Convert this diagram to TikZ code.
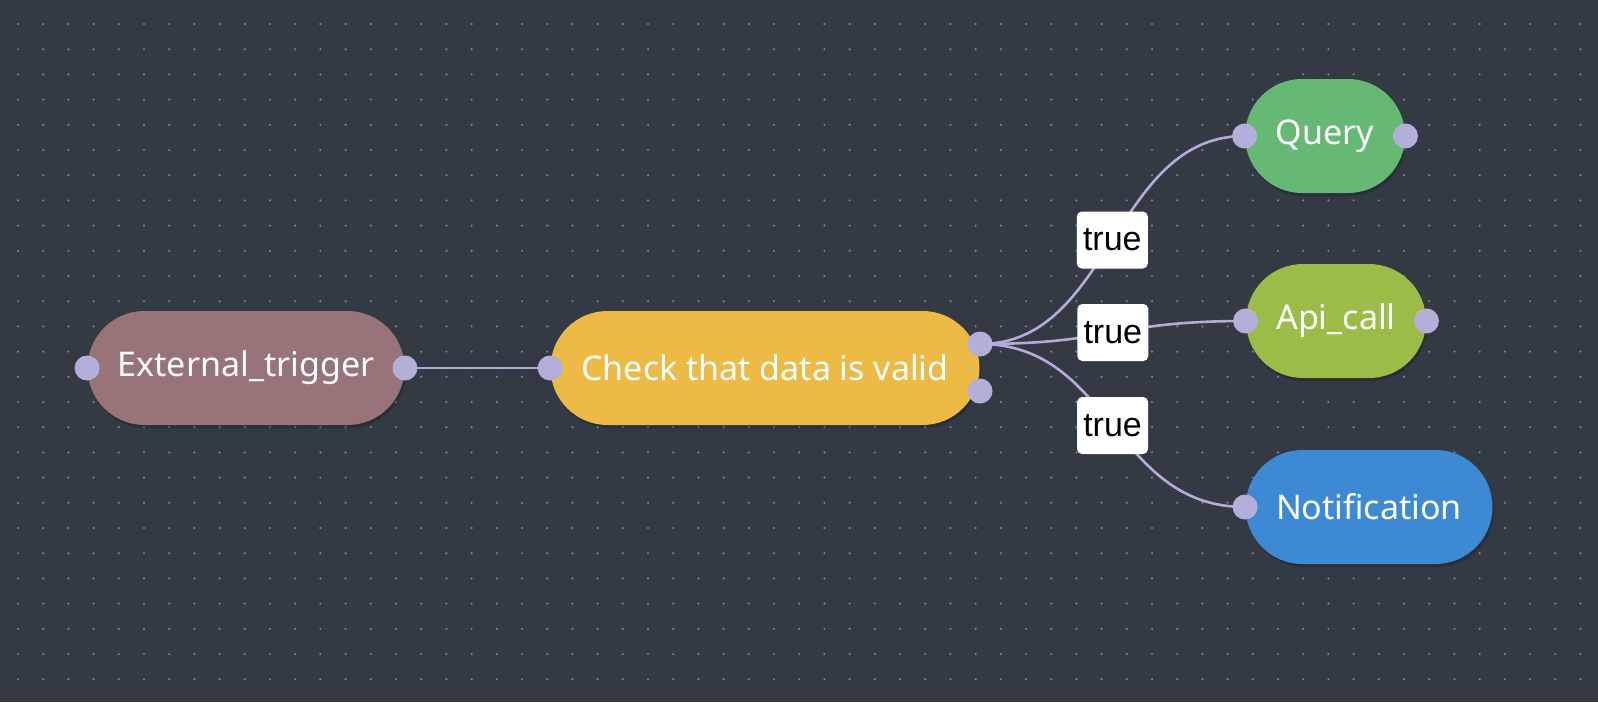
\documentclass[tikz,border=0pt]{standalone}
\usepackage{fontspec}
\setmainfont{Noto Sans}
\newfontfamily\lblfont{Liberation Sans}
\usetikzlibrary{positioning, shapes, shadows}
\definecolor{canvasbg}{RGB}{52, 58, 68}
\definecolor{griddot}{RGB}{125, 130, 138}
\definecolor{extcolor}{RGB}{152, 116, 120}
\definecolor{checkcolor}{RGB}{238, 186, 70}
\definecolor{querycolor}{RGB}{102, 185, 116}
\definecolor{apicolor}{RGB}{155, 189, 71}
\definecolor{notifcolor}{RGB}{61, 137, 212}
\definecolor{handlecolor}{RGB}{178, 176, 218}
\definecolor{edgecolor}{RGB}{176, 174, 216}
\pgfdeclarelayer{canvas}
\pgfdeclarelayer{edges}
\pgfsetlayers{canvas,edges,main}

\begin{document}
\begin{tikzpicture}[x=0.5pt, y=-0.5pt,
  block/.style={rectangle, rounded corners=28.5pt, minimum height=57pt, inner sep=0pt,
    text=white, font=\fontsize{17}{20}\selectfont,
    drop shadow={shadow xshift=0.8pt, shadow yshift=-1.5pt, opacity=0.18, fill=black}},
  handle/.style={circle, fill=handlecolor, minimum size=12.5pt, inner sep=0pt},
  cond/.style={fill=white, rounded corners=2.5pt, minimum width=35.5pt, minimum height=28.5pt,
    inner sep=0pt, font=\lblfont\fontsize{17}{20}\selectfont, text=black},
  link/.style={draw=edgecolor, line width=1.3pt}]
  % canvas
  \useasboundingbox (0,0) rectangle (1598,702);
  \begin{pgfonlayer}{canvas}
    \fill[canvasbg] (0,0) rectangle (1598,702);
    \foreach \i in {0,...,63}
      \foreach \j in {0,...,27}
        \fill[griddot] ({18+25.2*\i},{24+25.2*\j}) circle (0.6pt);
  \end{pgfonlayer}

  % nodes
  \node [block, fill = extcolor, minimum width = 158.5pt] (ext) at (246,368) {External\_trigger};
  \node [block, fill = checkcolor, minimum width = 214.5pt] (chk) at (765,368) {Check that data is valid};
  \node [block, fill = querycolor, minimum width = 80pt] (qry) at (1325,136) {Query};
  \node [block, fill = apicolor, minimum width = 90pt] (api) at (1336,321) {Api\_call};
  \node [block, fill = notifcolor, minimum width = 123.5pt] (ntf) at (1369,507) {Notification};

  % handles
  \node [handle] (ext_in) at (ext.west) {};
  \node [handle] (ext_out) at (ext.east) {};
  \node [handle] (chk_in) at (chk.west) {};
  \node [handle] (chk_true) at (980,344) {};
  \node [handle] (chk_false) at (980,391) {};
  \node [handle] (qry_in) at (qry.west) {};
  \node [handle] (qry_out) at (qry.east) {};
  \node [handle] (api_in) at (api.west) {};
  \node [handle] (api_out) at (api.east) {};
  \node [handle] (ntf_in) at (ntf.west) {};

  % edges
  \begin{pgfonlayer}{edges}
    \draw [link] (ext_out.center) -- (chk_in.center);
    \draw [link] (chk_true.center) .. controls +(132,0) and +(-132,0) .. (qry_in.center);
    \draw [link] (chk_true.center) .. controls +(132,0) and +(-132,0) .. (api_in.center);
    \draw [link] (chk_true.center) .. controls +(132,0) and +(-132,0) .. (ntf_in.center);
  \end{pgfonlayer}

  % labels
  \path (chk_true.center) .. controls +(132,0) and +(-132,0) .. (qry_in.center) node [cond, pos = 0.5] (lbl_qry) {true};
  \path (chk_true.center) .. controls +(132,0) and +(-132,0) .. (api_in.center) node [cond, pos = 0.5] (lbl_api) {true};
  \path (chk_true.center) .. controls +(132,0) and +(-132,0) .. (ntf_in.center) node [cond, pos = 0.5] (lbl_ntf) {true};
\end{tikzpicture}
\end{document}
